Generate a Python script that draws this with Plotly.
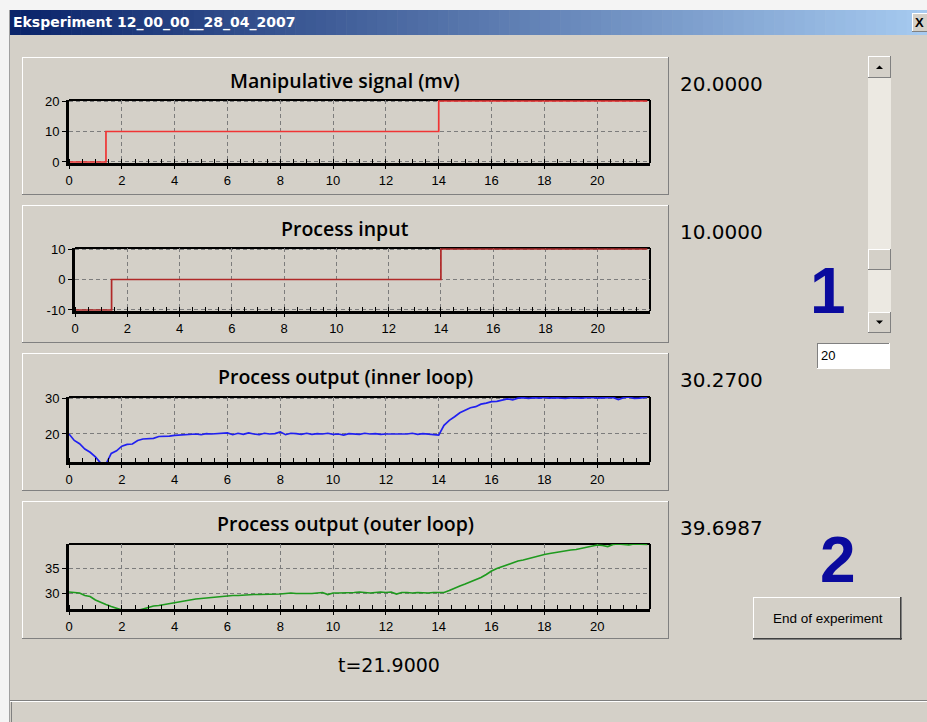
import numpy as np
import plotly.graph_objects as go

W, H = 927, 722

# ---------------- data ----------------
# sampled time base of the outputs (0.2 s samples, last sample at 21.9 s)
t = [round(v, 1) for v in np.arange(0.0, 21.81, 0.2)] + [21.9]

# step signals, given by their breakpoints
step_t = [0.0, 1.4, 14.0, 21.9]
mv = [0, 10, 20, 20]
proc_in = [-10, 0, 10, 10]

# process output, inner loop
inner = [
    20.0, 18.2, 17.3, 15.8, 14.9, 13.6, 11.9, 11.6, 14.6, 15.3,
    16.6, 17.1, 17.2, 18.2, 18.6, 18.8, 18.8, 19.3, 19.3, 19.4,
    19.6, 19.7, 19.8, 19.9, 20.0, 19.8, 20.1, 20.0, 20.1, 20.0,
    20.3, 19.8, 20.2, 19.9, 20.3, 20.0, 19.8, 20.2, 20.0, 20.1,
    20.6, 19.8, 20.2, 20.1, 19.9, 20.2, 19.9, 20.1, 20.0, 20.2,
    19.9, 20.0, 19.7, 20.1, 20.0, 19.9, 20.2, 20.0, 20.1, 19.9,
    20.0, 20.0, 19.9, 20.1, 20.0, 20.2, 19.9, 20.1, 20.0, 20.0,
    19.7, 22.4, 23.8, 24.8, 25.9, 26.6, 27.3, 27.6, 28.3, 28.6,
    29.0, 29.1, 29.5, 29.8, 29.5, 30.0, 30.1, 29.9, 30.1, 30.0,
    30.2, 30.0, 30.1, 30.0, 29.9, 30.1, 30.0, 30.0, 30.1, 30.2,
    30.0, 30.1, 30.0, 30.2, 29.6, 30.1, 30.3, 29.9, 30.0, 30.1,
    30.27,
]

# process output, outer loop
outer = [
    30.2, 30.1, 30.0, 29.5, 29.3, 28.6, 28.1, 27.7, 27.3, 26.9,
    26.6, 26.4, 26.4, 26.5, 26.8, 27.1, 27.4, 27.5, 27.7, 27.8,
    28.0, 28.3, 28.5, 28.7, 28.8, 28.9, 29.0, 29.1, 29.2, 29.4,
    29.4, 29.5, 29.5, 29.6, 29.7, 29.7, 29.7, 29.7, 29.7, 29.8,
    29.8, 29.9, 30.0, 29.9, 29.9, 29.8, 29.9, 30.0, 30.1, 29.7,
    30.0, 30.0, 30.0, 30.0, 30.1, 30.2, 30.1, 30.0, 30.1, 30.2,
    30.1, 30.2, 29.8, 30.1, 30.1, 30.0, 30.1, 30.0, 30.0, 30.1,
    30.1, 30.1, 30.5, 31.0, 31.4, 31.8, 32.2, 32.7, 33.1, 33.7,
    34.4, 34.9, 35.3, 35.6, 36.0, 36.4, 36.6, 36.9, 37.2, 37.5,
    37.7, 37.9, 38.1, 38.2, 38.4, 38.6, 38.7, 38.9, 39.1, 39.3,
    39.6, 39.5, 39.3, 39.7, 39.8, 39.7, 39.6, 39.8, 39.7, 39.7,
    39.6987,
]

panel_titles = ["Manipulative signal (mv)", "Process input",
                "Process output (inner loop)", "Process output (outer loop)"]
x_ticks = [0, 2, 4, 6, 8, 10, 12, 14, 16, 18, 20]
y_ticks = [[0, 10, 20], [-10, 0, 10], [20, 30], [30, 35]]
# a hair of headroom keeps traces lying on the limits visible inside the frame
y_ranges = [[-0.33, 20.33], [-10.33, 10.33], [12.2, 30.3], [26.8, 39.8]]
x_range = [0, 22]


# ---------------- geometry helpers (pixel -> paper) ----------------
def px(x):
    return x / W


def py(y):
    return 1 - y / H


BG = "#d4d0c8"
shapes = []
annotations = []


def rect(x0, y0, x1, y1, fill, layer="below"):
    shapes.append(dict(type="rect", xref="paper", yref="paper",
                       x0=px(x0), x1=px(x1), y0=py(y1), y1=py(y0),
                       fillcolor=fill, line=dict(width=0), layer=layer))


def hline(x0, x1, y, color, lw=1, layer="below"):
    shapes.append(dict(type="line", xref="paper", yref="paper",
                       x0=px(x0), x1=px(x1), y0=py(y), y1=py(y),
                       line=dict(color=color, width=lw), layer=layer))


def vline(x, y0, y1, color, lw=1, layer="below"):
    shapes.append(dict(type="line", xref="paper", yref="paper",
                       x0=px(x), x1=px(x), y0=py(y0), y1=py(y1),
                       line=dict(color=color, width=lw), layer=layer))


def bevel(x0, y0, x1, y1, fill, raised=True, layer="below"):
    rect(x0, y0, x1, y1, fill, layer=layer)
    light, dark = ("#ffffff", "#808080") if raised else ("#808080", "#ffffff")
    hline(x0, x1, y0 + 0.5, light, 1, layer)
    vline(x0 + 0.5, y0, y1, light, 1, layer)
    hline(x0, x1, y1 - 0.5, dark, 1, layer)
    vline(x1 - 0.5, y0, y1, dark, 1, layer)


def text(x, y, s, size, color="black", family="DejaVu Sans", xanchor="left",
         weight="normal"):
    annotations.append(dict(x=px(x), y=py(y), xref="paper", yref="paper",
                            text=s, showarrow=False, xanchor=xanchor,
                            yanchor="middle", borderpad=0,
                            font=dict(size=size, color=color, family=family,
                                      weight=weight)))


# ---------------- window chrome ----------------
rect(0, 0, W, 10, "#f4f4f4")
rect(0, 0, 9, H, "#f4f4f4")
vline(9.5, 10, H, "#a0a0a0")

# caption bar with horizontal colour ramp
c0 = np.array([10, 36, 106])
c1 = np.array([166, 202, 240])
n_strips = 90
bx0, bx1 = 10, W
for i in range(n_strips):
    f = i / (n_strips - 1)
    c = (c0 + (c1 - c0) * f).astype(int)
    xa = bx0 + (bx1 - bx0) * i / n_strips
    xb = bx0 + (bx1 - bx0) * (i + 1) / n_strips + 0.6
    rect(xa, 10, xb, 35, "rgb(%d,%d,%d)" % tuple(c))
text(12, 22.5, "Eksperiment 12_00_00__28_04_2007", 14, "white", weight="bold")
bevel(912, 13, 930, 32, BG)
text(914, 22.5, "X", 13, "black", family="Liberation Sans", weight="bold")

# status bar at the bottom
hline(10, W, 700.5, "#808080")
hline(10, W, 701.5, "#ffffff")
vline(11.5, 702, H, "#808080")

# ---------------- chart panels ----------------
panels = [(22, 57, 669, 195), (22, 205, 669, 343),
          (22, 353, 669, 491), (22, 501, 669, 639)]
plot_boxes = [(69, 100, 650, 163), (75, 248, 650, 311),
              (69, 397, 650, 462), (69, 544, 650, 609)]
title_y = [80, 228, 376, 523]
colors = ["#f03434", "#b02828", "#2020f0", "#1e9a1e"]

for (x0, y0, x1, y1) in panels:
    bevel(x0, y0, x1, y1, BG)
for i, ttl in enumerate(panel_titles):
    text(345, title_y[i], ttl, 19.5, family="Open Sans", xanchor="center",
         weight=600)

fig = go.Figure()
series = [(step_t, mv), (step_t, proc_in), (t, inner), (t, outer)]
for i, (xs, ys) in enumerate(series):
    suffix = "" if i == 0 else str(i + 1)
    fig.add_trace(go.Scatter(
        x=xs, y=ys, mode="lines",
        line=dict(color=colors[i], width=1.7,
                  shape="hv" if i < 2 else "linear"),
        xaxis="x" + suffix, yaxis="y" + suffix, hoverinfo="skip"))

    bx0_, by0_, bx1_, by1_ = plot_boxes[i]
    tickfont = dict(family="Liberation Sans", size=13, color="black")
    fig.layout["xaxis" + suffix] = dict(
        domain=[px(bx0_), px(bx1_)], range=x_range, anchor="y" + suffix,
        tickvals=x_ticks, ticks="outside", ticklen=3, tickcolor="black",
        tickwidth=1, showgrid=True, gridcolor="#7c7c7c", griddash="4px,3px",
        gridwidth=1, showline=True, linecolor="black", linewidth=3,
        zeroline=False, tickfont=tickfont, fixedrange=True, automargin=False,
        minor=dict(dtick=0.5, tick0=0, ticks="inside", ticklen=4,
                   tickcolor="black", showgrid=False))
    fig.layout["yaxis" + suffix] = dict(
        domain=[py(by1_), py(by0_)], range=y_ranges[i], anchor="x" + suffix,
        tickvals=y_ticks[i], ticktext=[str(v) for v in y_ticks[i]],
        ticks="outside", ticklen=4, tickcolor="black",
        showgrid=True, gridcolor="#7c7c7c", griddash="4px,3px", gridwidth=1,
        showline=True, linecolor="black", linewidth=3, zeroline=False,
        tickfont=tickfont, fixedrange=True, automargin=False)
    # thin top and right frame of the plot area
    shapes.append(dict(type="line", xref="x%s domain" % suffix,
                       yref="y%s domain" % suffix, x0=0, x1=1, y0=1, y1=1,
                       line=dict(color="black", width=2), layer="below"))
    shapes.append(dict(type="line", xref="x%s domain" % suffix,
                       yref="y%s domain" % suffix, x0=1, x1=1, y0=0, y1=1,
                       line=dict(color="black", width=2), layer="below"))

# current readouts next to each chart
readouts = [mv[-1], proc_in[-1], inner[-1], outer[-1]]
readout_y = [84, 232, 380, 528]
for v, yy in zip(readouts, readout_y):
    text(679, yy, "%.4f" % v, 20)

text(389, 665, "t=%.4f" % step_t[-1], 19, xanchor="center")

# big step markers
text(828, 291, "1", 64, "#0a0a9e", family="Liberation Sans", xanchor="center",
     weight="bold")
text(838, 560, "2", 64, "#0a0a9e", family="Liberation Sans", xanchor="center",
     weight="bold")

# ---------------- scrollbar, edit box, button ----------------
rect(868, 56, 891, 333, "#ece9e2")
bevel(868, 56, 891, 78, BG)
bevel(868, 249, 891, 270, BG)
bevel(868, 312, 891, 333, BG)
cx = 879.5
shapes.append(dict(type="path", xref="paper", yref="paper",
                   path="M %f %f L %f %f L %f %f Z" % (
                       px(cx - 3.5), py(69), px(cx + 3.5), py(69),
                       px(cx), py(65.5)),
                   fillcolor="black", line=dict(width=0), layer="below"))
shapes.append(dict(type="path", xref="paper", yref="paper",
                   path="M %f %f L %f %f L %f %f Z" % (
                       px(cx - 3.5), py(320.5), px(cx + 3.5), py(320.5),
                       px(cx), py(324)),
                   fillcolor="black", line=dict(width=0), layer="below"))

bevel(817, 343, 890, 369, "#ffffff", raised=False)
text(820, 356, "20", 13, family="Liberation Sans")

bevel(753, 597, 902, 640, BG)
hline(753, 902, 638.5, "#404040")
vline(900.5, 597, 640, "#404040")
text(827.5, 618, "End of experiment", 13.5, family="Liberation Sans",
     xanchor="center")

fig.update_layout(
    width=W, height=H, margin=dict(l=0, r=0, t=0, b=0, pad=0),
    paper_bgcolor=BG, plot_bgcolor="rgba(0,0,0,0)", showlegend=False,
    shapes=shapes, annotations=annotations)

fig.write_html("out.html", config={"displayModeBar": False})
